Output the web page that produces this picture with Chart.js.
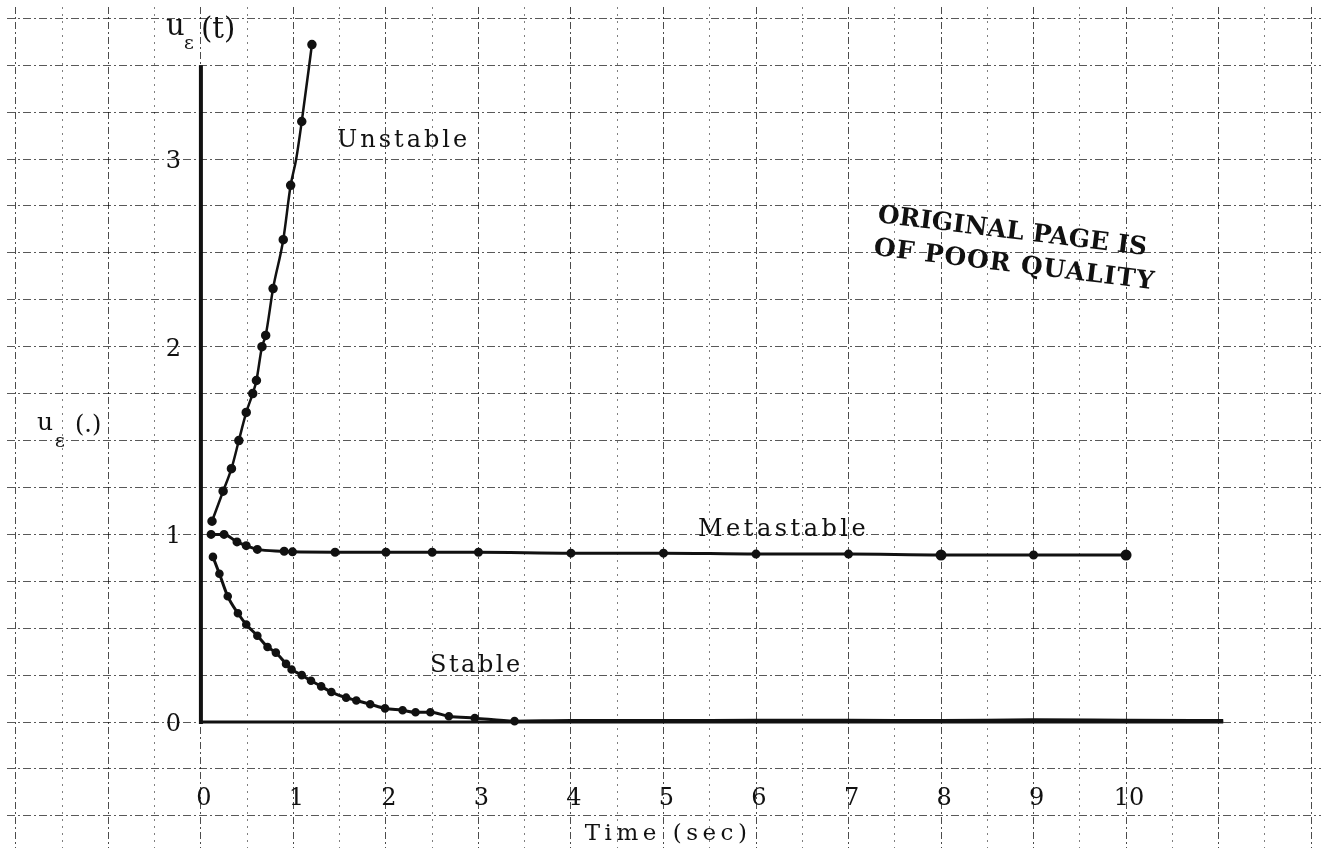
<!DOCTYPE html>
<html>
<head>
<meta charset="utf-8">
<title>u_eps(t) stability</title>
<script src="https://cdn.jsdelivr.net/npm/chart.js@4.4.1/dist/chart.umd.min.js"></script>
<style>
  html, body { margin: 0; padding: 0; background: #fff; }
  canvas { display: block; }
</style>
</head>
<body>
<canvas id="chart" width="1328" height="855"></canvas>
<script>
// values (t in sec, u_eps)
const unstableT = [0.12, 0.24, 0.33, 0.41, 0.49, 0.56, 0.60, 0.66, 0.70, 0.78, 0.89, 0.97, 1.03, 1.09, 1.20];
const unstableU = [1.07, 1.23, 1.35, 1.50, 1.65, 1.75, 1.82, 2.00, 2.06, 2.31, 2.57, 2.86, 3.00, 3.20, 3.61];

const metaT = [0.11, 0.25, 0.39, 0.49, 0.61, 0.90, 0.99, 1.45, 2.0, 2.5, 3.0, 4, 5, 6, 7, 8, 9, 10];
const metaU = [1.00, 1.00, 0.96, 0.94, 0.92, 0.91, 0.907, 0.905, 0.905, 0.905, 0.905, 0.9, 0.9, 0.895, 0.895, 0.89, 0.89, 0.89];

const stableT = [0.13, 0.20, 0.29, 0.40, 0.49, 0.61, 0.72, 0.81, 0.92, 0.98, 1.09, 1.19, 1.30, 1.41,
  1.57, 1.68, 1.83, 1.99, 2.18, 2.32, 2.48, 2.68, 2.96, 3.39, 4, 5, 6, 7, 8, 9, 10, 11.05];
const stableU = [0.88, 0.79, 0.67, 0.58, 0.52, 0.46, 0.40, 0.37, 0.31, 0.28, 0.25, 0.22, 0.19, 0.16,
  0.13, 0.115, 0.095, 0.073, 0.063, 0.052, 0.052, 0.031, 0.021, 0.005, 0.008, 0.008, 0.01, 0.01, 0.008, 0.012, 0.01, 0.008];

const xTickLabels = ['0', '1', '2', '3', '4', '5', '6', '7', '8', '9', '10'];
const yTickLabels = ['0', '1', '2', '3'];

// the graph paper runs past the axes, so the scales cover the whole page
const X_MIN = -2.096, X_MAX = 12.107;
const Y_MIN = -0.671, Y_MAX = 3.81;
const Y_AXIS_TOP = 3.5;
const X_AXIS_END = 11.05;
const STABLE_MARK_END = 3.4;

const INK = '#111';
const SERIF = '"DejaVu Serif", "Liberation Serif", serif';

function toPoints(ts, us) {
  return ts.map((t, i) => ({ x: t, y: us[i] }));
}

function text(ctx, str, x, y, font, align, spacing) {
  ctx.font = font;
  ctx.textAlign = align || 'left';
  ctx.letterSpacing = (spacing || 0) + 'px';
  ctx.fillText(str, x, y);
}

const paperPlugin = {
  id: 'paper',
  beforeDraw(chart) {
    const ctx = chart.ctx;
    ctx.save();
    ctx.fillStyle = '#fff';
    ctx.fillRect(0, 0, chart.width, chart.height);
    ctx.restore();
  },
  beforeDatasetsDraw(chart) {
    const { ctx, scales: { x, y } } = chart;
    ctx.save();
    ctx.strokeStyle = INK;
    ctx.lineCap = 'butt';
    // y axis
    ctx.lineWidth = 4;
    ctx.beginPath();
    ctx.moveTo(x.getPixelForValue(0), y.getPixelForValue(0) + 2);
    ctx.lineTo(x.getPixelForValue(0), y.getPixelForValue(Y_AXIS_TOP));
    ctx.stroke();
    // x axis
    ctx.lineWidth = 3;
    ctx.beginPath();
    ctx.moveTo(x.getPixelForValue(0), y.getPixelForValue(0));
    ctx.lineTo(x.getPixelForValue(X_AXIS_END), y.getPixelForValue(0));
    ctx.stroke();
    ctx.restore();
  },
  afterDraw(chart) {
    const { ctx, scales: { x, y } } = chart;
    ctx.save();
    ctx.fillStyle = INK;
    ctx.textBaseline = 'alphabetic';

    // tick labels
    const x0 = x.getPixelForValue(0);
    yTickLabels.forEach(lab => {
      text(ctx, lab, x0 - 20, y.getPixelForValue(Number(lab)) + 9, '24px ' + SERIF, 'right');
    });
    const yLab = y.getPixelForValue(-0.25) + 36;
    xTickLabels.forEach(lab => {
      text(ctx, lab, x.getPixelForValue(Number(lab)) + 3, yLab, '24px ' + SERIF, 'center');
    });
    text(ctx, 'Time (sec)', x.getPixelForValue(5.05), y.getPixelForValue(-0.5) + 24, '23px ' + SERIF, 'center', 4.5);

    // axis names
    text(ctx, 'u', 166, 35, '29px ' + SERIF);
    text(ctx, 'ε', 184, 49, '19px ' + SERIF);
    text(ctx, '(t)', 201, 38, '29px ' + SERIF);

    text(ctx, 'u', 37, 430, '25px ' + SERIF);
    text(ctx, 'ε', 55, 447, '19px ' + SERIF);
    text(ctx, '(.)', 75, 432, '24px ' + SERIF);

    // curve names
    text(ctx, 'Unstable', 337, 147, '24px ' + SERIF, 'left', 3);
    text(ctx, 'Metastable', 698, 536, '24px ' + SERIF, 'left', 3.5);
    text(ctx, 'Stable', 430, 672, '24px ' + SERIF, 'left', 2.5);

    // stamp
    ctx.translate(877, 222);
    ctx.rotate(7 * Math.PI / 180);
    text(ctx, 'ORIGINAL PAGE IS', 0, 0, 'bold 25px ' + SERIF, 'left', 0);
    text(ctx, 'OF POOR QUALITY', 0, 33, 'bold 25px ' + SERIF, 'left', 1);
    ctx.restore();
  },
};

const gridX = {
  color: ctx => Number.isInteger(ctx.tick.value) ? 'rgba(0,0,0,0.7)' : 'rgba(0,0,0,0.5)',
  lineWidth: 1,
  drawTicks: false,
};
const gridY = {
  color: 'rgba(0,0,0,0.65)',
  lineWidth: 1,
  drawTicks: false,
};

new Chart(document.getElementById('chart'), {
  type: 'line',
  data: {
    datasets: [
      {
        label: 'Unstable',
        data: toPoints(unstableT, unstableU),
        borderColor: INK,
        backgroundColor: INK,
        borderWidth: 2.5,
        pointRadius: ctx => ctx.dataIndex === 12 ? 0 : 3.5,
        cubicInterpolationMode: 'monotone',
      },
      {
        label: 'Metastable',
        data: toPoints(metaT, metaU),
        borderColor: INK,
        backgroundColor: INK,
        borderWidth: 3,
        pointRadius: ctx => (ctx.raw && (ctx.raw.x === 8 || ctx.raw.x === 10)) ? 4 : 3,
        cubicInterpolationMode: 'monotone',
      },
      {
        label: 'Stable',
        data: toPoints(stableT, stableU),
        borderColor: INK,
        backgroundColor: INK,
        borderWidth: 3,
        pointRadius: ctx => (ctx.raw && ctx.raw.x <= STABLE_MARK_END) ? 2.8 : 0,
        cubicInterpolationMode: 'monotone',
      },
    ],
  },
  options: {
    responsive: false,
    animation: false,
    devicePixelRatio: 1,
    layout: { padding: 0 },
    plugins: {
      legend: { display: false },
      tooltip: { enabled: false },
    },
    scales: {
      x: {
        type: 'linear',
        min: X_MIN,
        max: X_MAX,
        ticks: { display: false, stepSize: 0.5, includeBounds: false },
        grid: gridX,
        border: {
          display: false,
          dash: ctx => Number.isInteger(ctx.tick.value) ? [7, 3, 2, 3] : [2, 5],
        },
      },
      y: {
        type: 'linear',
        min: Y_MIN,
        max: Y_MAX,
        ticks: { display: false, stepSize: 0.25, includeBounds: false },
        grid: gridY,
        border: { display: false, dash: [8, 3, 2, 3] },
      },
    },
  },
  plugins: [paperPlugin],
});
</script>
</body>
</html>
